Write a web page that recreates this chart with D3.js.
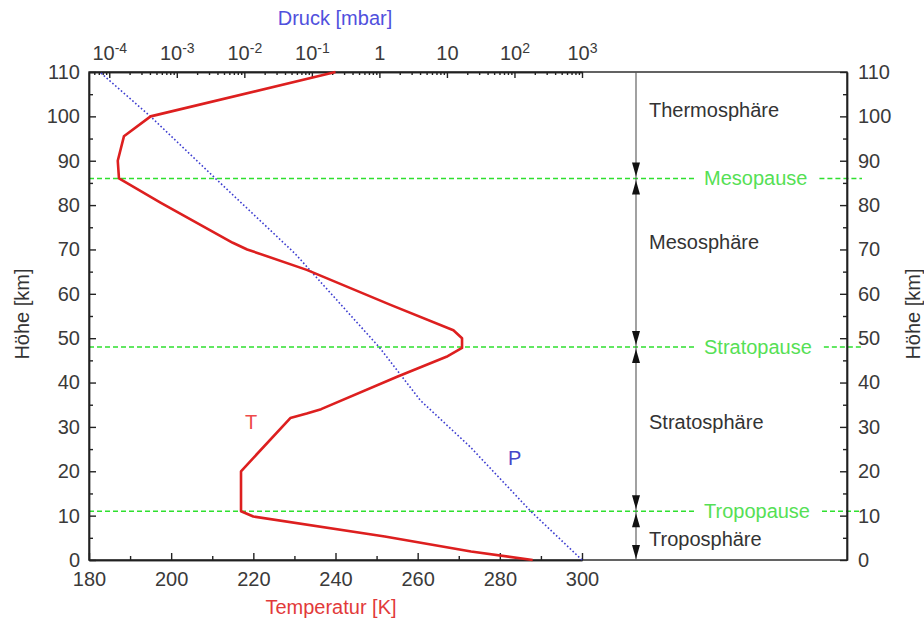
<!DOCTYPE html>
<html>
<head>
<meta charset="utf-8">
<script src="https://cdn.jsdelivr.net/npm/d3@7"></script>
<style>
  body { margin: 0; background: #fff; }
  svg { display: block; font-family: "Liberation Sans", Arial, sans-serif; }
  .axis text { font-size: 20px; fill: #3a3a3a; }
  .axis line, .axis path { stroke: #222; stroke-width: 1.4; }
</style>
</head>
<body>
<svg width="924" height="623"></svg>
<script>
// Temperature profile (km, K)
const tempKm = [0, 1.9, 5.3, 9.8, 11, 20, 32, 33, 34, 41.3, 45.8, 47.8, 50, 51.8, 57.5, 65.4, 70, 71.5, 80.5, 86, 90, 95.5, 100, 110];
const tempK = [288, 273, 252, 220, 217, 217, 229, 233, 236.5, 255, 267, 270.8, 270.8, 268.7, 253.4, 233, 218.5, 215, 197.5, 187.3, 187, 188.5, 195, 240];

// Pressure profile (km, mbar)
const pressKm = [0, 11, 25.5, 36, 41.3, 47.7, 69, 86.4, 100, 110];
const pressMbar = [1000, 174, 22.1, 4.03, 2.17, 1.03, 0.0569, 0.00351, 0.000407, 0.0000724];

// Boundaries and layers
const boundaryKm = [11, 48, 86];
const boundaryNames = ["Tropopause", "Stratopause", "Mesopause"];
const layerNames = ["Troposphäre", "Stratosphäre", "Mesosphäre", "Thermosphäre"];
const layerLabelKm = [4.7, 31, 71.7, 101.4];

// Ticks
const kmTicks = d3.range(0, 111, 10);
const kmMinor = d3.range(5, 110, 10);
const tempTicks = d3.range(180, 301, 20);
const tempMinor = d3.range(190, 300, 20);
const pressExp = [-4, -3, -2, -1, 0, 1, 2, 3];

const svg = d3.select("svg");
const frame = { left: 89, right: 847, top: 72, bottom: 560 };
const plotRight = 582; // end of T / P scale
const arrowX = 636;

const x = d3.scaleLinear().domain([180, 300]).range([frame.left, plotRight]);
const xP = d3.scaleLog().domain([Math.pow(10, -4.3), 1000]).range([frame.left, plotRight]);
const y = d3.scaleLinear().domain([0, 110]).range([frame.bottom, frame.top]);

// Minor log ticks
const pressMinor = [];
for (let n = -5; n <= 2; n++) {
    for (let k = 2; k <= 9; k++) {
        const v = k * Math.pow(10, n);
        if (v >= xP.domain()[0] && v <= 1000) pressMinor.push(v);
    }
}

// Boundary lines (drawn first, gap behind label)
boundaryKm.forEach((h, i) => {
    const label = svg.append("text")
        .attr("x", 704)
        .attr("y", y(h))
        .attr("dy", "0.35em")
        .style("font-size", "20px")
        .style("fill", "#55e055")
        .text(boundaryNames[i]);
    const bb = label.node().getBBox();
    svg.append("line")
        .attr("x1", frame.left).attr("x2", bb.x - 9)
        .attr("y1", y(h)).attr("y2", y(h))
        .attr("stroke", "#2fe02f").attr("stroke-width", 1.6)
        .attr("stroke-dasharray", "5,3");
    svg.append("line")
        .attr("x1", bb.x + bb.width + 12).attr("x2", 862)
        .attr("y1", y(h)).attr("y2", y(h))
        .attr("stroke", "#2fe02f").attr("stroke-width", 1.6)
        .attr("stroke-dasharray", "5,3");
});

// Axes
svg.append("g").attr("class", "axis")
    .attr("transform", `translate(${frame.left},0)`)
    .call(d3.axisLeft(y).tickValues(kmTicks).tickSize(-7).tickSizeOuter(0).tickPadding(9));
svg.append("g").attr("class", "axis")
    .attr("transform", `translate(${frame.left},0)`)
    .call(d3.axisLeft(y).tickValues(kmMinor).tickSize(-4).tickSizeOuter(0).tickFormat(""));

svg.append("g").attr("class", "axis")
    .attr("transform", `translate(${frame.right},0)`)
    .call(d3.axisRight(y).tickValues(kmTicks).tickSize(-7).tickSizeOuter(0).tickPadding(11));
svg.append("g").attr("class", "axis")
    .attr("transform", `translate(${frame.right},0)`)
    .call(d3.axisRight(y).tickValues(kmMinor).tickSize(-4).tickSizeOuter(0).tickFormat(""));

svg.append("g").attr("class", "axis")
    .attr("transform", `translate(0,${frame.bottom})`)
    .call(d3.axisBottom(x).tickValues(tempTicks).tickSize(-7).tickSizeOuter(0).tickPadding(12));
svg.append("g").attr("class", "axis")
    .attr("transform", `translate(0,${frame.bottom})`)
    .call(d3.axisBottom(x).tickValues(tempMinor).tickSize(-4).tickSizeOuter(0).tickFormat(""));

const topAxis = svg.append("g").attr("class", "axis")
    .attr("transform", `translate(0,${frame.top})`)
    .call(d3.axisTop(xP).tickValues(pressExp.map(e => Math.pow(10, e))).tickSize(-6).tickSizeOuter(0).tickPadding(12).tickFormat(""));
svg.append("g").attr("class", "axis")
    .attr("transform", `translate(0,${frame.top})`)
    .call(d3.axisTop(xP).tickValues(pressMinor).tickSize(-3).tickSizeOuter(0).tickFormat(""));

// Power-of-ten labels
topAxis.selectAll(".tick text").each(function(d) {
    const e = Math.round(Math.log10(d));
    const t = d3.select(this);
    if (e === 0) { t.text("1"); return; }
    if (e === 1) { t.text("10"); return; }
    t.append("tspan").text("10");
    t.append("tspan").attr("dy", "-0.5em").style("font-size", "14px").text(e);
});

// Frame
svg.append("rect")
    .attr("x", frame.left).attr("y", frame.top)
    .attr("width", frame.right - frame.left).attr("height", frame.bottom - frame.top)
    .attr("fill", "none").attr("stroke", "#222").attr("stroke-width", 1.4);

// Pressure line
const pLine = d3.line().x((d, i) => xP(pressMbar[i])).y(d => y(d));
svg.append("path")
    .datum(pressKm)
    .attr("d", pLine)
    .attr("fill", "none")
    .attr("stroke", "#3c3cd0")
    .attr("stroke-width", 1.6)
    .attr("stroke-dasharray", "1.6,2.2");

// Temperature line
const tLine = d3.line().x((d, i) => x(tempK[i])).y(d => y(d));
svg.append("path")
    .datum(tempKm)
    .attr("d", tLine)
    .attr("fill", "none")
    .attr("stroke", "#dd1f1f")
    .attr("stroke-width", 2.6)
    .attr("stroke-linejoin", "round");

// Layer arrows
svg.append("line")
    .attr("x1", arrowX).attr("x2", arrowX)
    .attr("y1", frame.top).attr("y2", frame.bottom)
    .attr("stroke", "#555").attr("stroke-width", 1.1);

function arrowHead(tipY, dir) {
    // dir = 1 points down, -1 points up
    const len = 14, half = 4;
    svg.append("path")
        .attr("d", `M${arrowX},${tipY} L${arrowX - half},${tipY - dir * len} L${arrowX + half},${tipY - dir * len} Z`)
        .attr("fill", "#111");
}
boundaryKm.forEach(h => {
    arrowHead(y(h) - 2, 1);
    arrowHead(y(h) + 2, -1);
});
arrowHead(frame.bottom - 1, 1);

// Layer labels
layerNames.forEach((name, i) => {
    svg.append("text")
        .attr("x", 649)
        .attr("y", y(layerLabelKm[i]))
        .attr("dy", "0.35em")
        .style("font-size", "20px")
        .style("fill", "#333")
        .text(name);
});

// Curve labels
svg.append("text").attr("x", x(218)).attr("y", y(31)).attr("dy", "0.35em")
    .style("font-size", "20px").style("fill", "#ee4a4a").text("T");
svg.append("text").attr("x", x(282)).attr("y", y(23)).attr("dy", "0.35em")
    .style("font-size", "20px").style("fill", "#4646c8").text("P");

// Axis titles
svg.append("text")
    .attr("x", 335).attr("y", 18).attr("dy", "0.35em")
    .attr("text-anchor", "middle")
    .style("font-size", "20px").style("fill", "#5050dd")
    .text("Druck [mbar]");

svg.append("text")
    .attr("x", 331).attr("y", 607).attr("dy", "0.35em")
    .attr("text-anchor", "middle")
    .style("font-size", "20px").style("fill", "#e23a3a")
    .text("Temperatur [K]");

svg.append("text")
    .attr("transform", "translate(22,314) rotate(-90)")
    .attr("dy", "0.35em")
    .attr("text-anchor", "middle")
    .style("font-size", "20px").style("fill", "#333")
    .text("Höhe [km]");

svg.append("text")
    .attr("transform", "translate(913,314) rotate(-90)")
    .attr("dy", "0.35em")
    .attr("text-anchor", "middle")
    .style("font-size", "20px").style("fill", "#333")
    .text("Höhe [km]");
</script>
</body>
</html>
